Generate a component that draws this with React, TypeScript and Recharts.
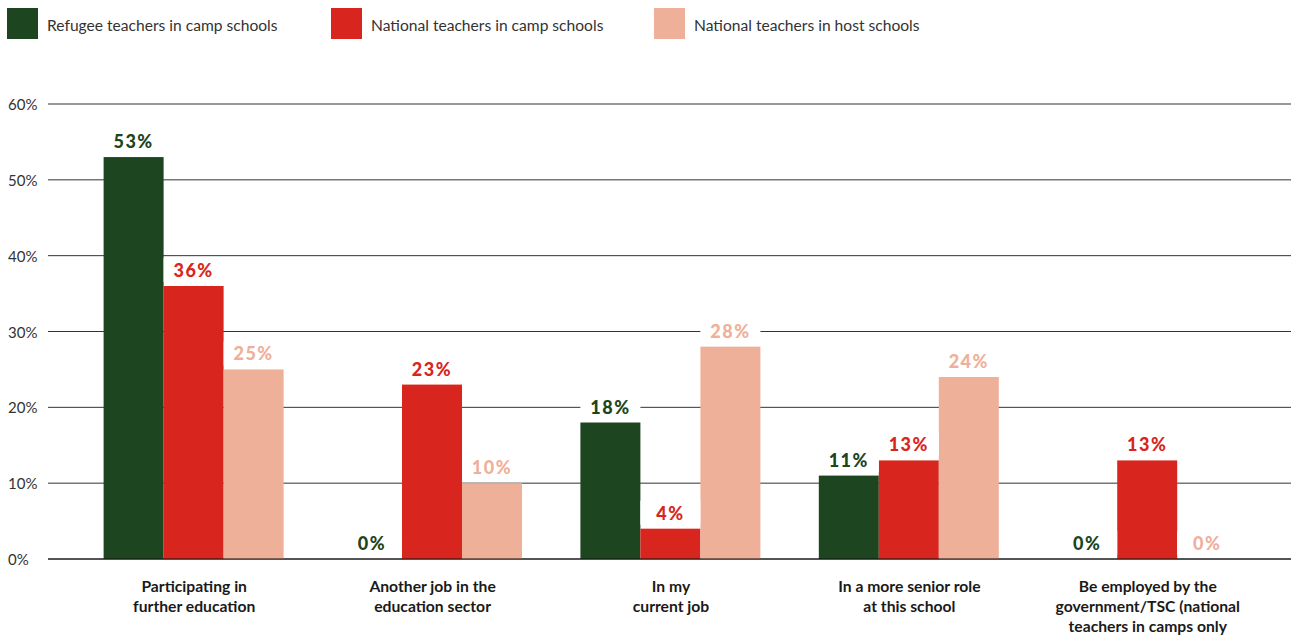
import React from "react";
import { BarChart, Bar, XAxis, YAxis, CartesianGrid, LabelList } from "recharts";

const categories = [
  "Participating in\nfurther education",
  "Another job in the\neducation sector",
  "In my\ncurrent job",
  "In a more senior role\nat this school",
  "Be employed by the\ngovernment/TSC (national\nteachers in camps only",
];
const refugeeCamp = [53, 0, 18, 11, 0];
const nationalCamp = [36, 23, 4, 13, 13];
const nationalHost = [25, 10, 28, 24, 0];
const yTicks = [0, 10, 20, 30, 40, 50, 60];

const series = [
  { key: "refugeeCamp", name: "Refugee teachers in camp schools", color: "#1c4520" },
  { key: "nationalCamp", name: "National teachers in camp schools", color: "#d8261e" },
  { key: "nationalHost", name: "National teachers in host schools", color: "#efb09a" },
];

const data = categories.map((c, i) => ({
  category: c,
  refugeeCamp: refugeeCamp[i],
  nationalCamp: nationalCamp[i],
  nationalHost: nationalHost[i],
}));

const FONT = "Lato, 'Open Sans', sans-serif";

function makeLabel(color: string) {
  return (props: any) => {
    const { x, y, width, value } = props;
    return (
      <g>
        <rect x={x} y={y - 28} width={width} height={24} fill="#fff" />
        <text
          x={x + width / 2}
          y={y - 16}
          textAnchor="middle"
          dominantBaseline="central"
          fill={color}
          fontSize={18}
          fontWeight={900}
          letterSpacing={1.5}
          fontFamily={FONT}
        >
          {value}%
        </text>
      </g>
    );
  };
}

function BarShape(props: any) {
  const { x, y, width, height, fill, value } = props;
  if (!value) return <g />;
  return <rect x={x} y={y} width={width} height={height} fill={fill} />;
}

function CategoryTick(props: any) {
  const { x, payload } = props;
  const lines = String(payload.value).split("\n");
  return (
    <text
      x={x}
      y={587}
      textAnchor="middle"
      fill="#1a1a1a"
      fontSize={15.7}
      fontWeight={700}
      fontFamily={FONT}
    >
      {lines.map((l, i) => (
        <tspan key={i} x={x} dy={i === 0 ? 5 : 20}>
          {l}
        </tspan>
      ))}
    </text>
  );
}

function PercentTick(props: any) {
  const { y, payload } = props;
  return (
    <text
      x={8}
      y={y}
      textAnchor="start"
      dominantBaseline="central"
      fill="#333"
      fontSize={15}
      fontFamily={FONT}
    >
      {payload.value}%
    </text>
  );
}

export default function App() {
  return (
    <div style={{ position: "absolute", left: 0, top: 0, width: 1291, height: 637, background: "#fff", fontFamily: FONT }}>
      <div style={{ position: "absolute", top: 8, left: 0, height: 31 }}>
        {series.map((s, i) => (
          <div
            key={s.key}
            style={{ position: "absolute", left: [7, 331, 654][i], top: 0, display: "flex", alignItems: "center", whiteSpace: "nowrap" }}
          >
            <div style={{ width: 31, height: 31, background: s.color }} />
            <span style={{ marginLeft: 9, fontSize: 15.6, color: "#333", marginTop: 2 }}>{s.name}</span>
          </div>
        ))}
      </div>
      <BarChart
        width={1291}
        height={637}
        data={data}
        margin={{ top: 104, right: 0, bottom: 0, left: 0 }}
        barCategoryGap="12%"
        barGap={0}
      >
        <CartesianGrid vertical={false} stroke="#333" />
        <XAxis
          dataKey="category"
          interval={0}
          height={78}
          tickLine={false}
          axisLine={{ stroke: "#111" }}
          padding={{ left: 27, right: 24 }}
          tick={<CategoryTick />}
        />
        <YAxis
          width={48}
          domain={[0, 60]}
          ticks={yTicks}
          axisLine={false}
          tickLine={false}
          tick={<PercentTick />}
        />
        {series.map((s) => (
          <Bar
            key={s.key}
            dataKey={s.key}
            name={s.name}
            fill={s.color}
            minPointSize={(v: number) => (v === 0 ? 0.1 : 0)}
            shape={<BarShape />}
            isAnimationActive={false}
          >
            <LabelList dataKey={s.key} content={makeLabel(s.color)} />
          </Bar>
        ))}
      </BarChart>
    </div>
  );
}
